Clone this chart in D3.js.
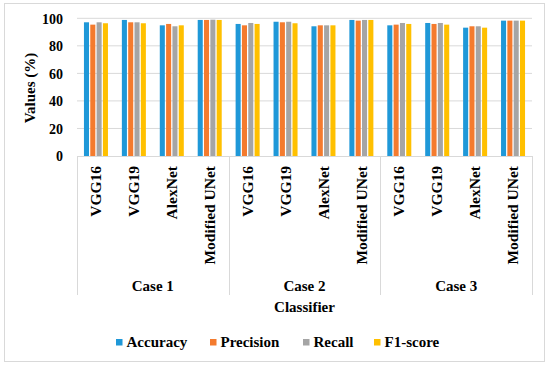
<!DOCTYPE html>
<html>
<head>
<meta charset="utf-8">
<script src="https://cdn.jsdelivr.net/npm/d3@7"></script>
<style>
  body { margin: 0; background: #fff; }
  text { font-family: "Liberation Serif", "Times New Roman", serif; font-weight: bold; fill: #000; }
</style>
</head>
<body>
<svg id="chart" width="550" height="366"></svg>
<script>
// values
var cases = ["Case 1", "Case 2", "Case 3"];
var classifiers = ["VGG16", "VGG19", "AlexNet", "Modified UNet"];
var metrics = ["Accuracy", "Precision", "Recall", "F1-score"];
var colors = ["#1f98d8", "#f47b2e", "#a5a5a5", "#ffc000"];
var yTicks = [0, 20, 40, 60, 80, 100];

// one row per case, classifier order, metric order inside
var accuracy  = [[97.1, 98.8, 94.9, 98.8], [95.9, 97.5, 94.2, 98.8], [94.9, 96.6, 93.2, 98.3]];
var precision = [[95.4, 97.1, 95.9, 98.8], [94.9, 97.1, 94.9, 98.3], [95.4, 95.9, 94.2, 98.3]];
var recall    = [[97.1, 97.1, 94.2, 99.0], [96.6, 97.5, 94.9, 98.8], [96.6, 96.6, 94.2, 98.3]];
var f1score   = [[96.4, 96.4, 94.9, 98.8], [95.9, 96.4, 94.9, 98.8], [95.9, 95.4, 93.2, 98.3]];
var series = [accuracy, precision, recall, f1score];

var svg = d3.select("#chart");

var plotLeft = 77, plotRight = 532, plotTop = 18.3, plotBottom = 156;
var catBottom = 295;

// outer chart border
svg.append("rect")
    .attr("x", 4.5).attr("y", 3.5)
    .attr("width", 540).attr("height", 358)
    .attr("fill", "#fff")
    .attr("stroke", "#d9d9d9");

var slots = [];
cases.forEach(function (c, ci) {
    classifiers.forEach(function (k, ki) {
        slots.push({ key: ci + "-" + ki, ci: ci, ki: ki, name: k });
    });
});

var x0 = d3.scaleBand()
    .domain(slots.map(d => d.key))
    .range([plotLeft, plotRight]);

var x1 = d3.scaleBand()
    .domain(metrics)
    .range([0, x0.bandwidth()])
    .paddingInner(0.2)
    .paddingOuter(1.1);

var xCase = d3.scaleBand()
    .domain(cases)
    .range([plotLeft, plotRight]);

var y = d3.scaleLinear()
    .domain([0, 100])
    .range([plotBottom, plotTop]);

// gridlines
svg.append("g")
    .selectAll("line")
    .data(yTicks.filter(t => t > 0))
    .join("line")
    .attr("x1", plotLeft).attr("x2", plotRight)
    .attr("y1", d => y(d)).attr("y2", d => y(d))
    .attr("stroke", "#d9d9d9")
    .attr("stroke-width", 1);

// y axis labels
var yAxis = d3.axisLeft(y).tickValues(yTicks).tickSize(0).tickPadding(0);
var gy = svg.append("g")
    .attr("transform", "translate(63,0)")
    .call(yAxis);
gy.select(".domain").remove();
gy.selectAll("text")
    .attr("font-size", "14px")
    .attr("font-family", "Liberation Serif, serif")
    .attr("font-weight", "bold")
    .attr("fill", "#000")
    .attr("dy", "0.34em");

// bars
var groups = svg.append("g")
    .selectAll("g")
    .data(slots)
    .join("g")
    .attr("transform", d => "translate(" + x0(d.key) + ",0)");

groups.selectAll("rect")
    .data(d => metrics.map((m, mi) => ({ metric: m, mi: mi, value: series[mi][d.ci][d.ki] })))
    .join("rect")
    .attr("x", d => x1(d.metric))
    .attr("width", x1.bandwidth())
    .attr("y", d => y(d.value))
    .attr("height", d => y(0) - y(d.value))
    .attr("fill", d => colors[d.mi]);

// baseline and category separators
svg.append("line")
    .attr("x1", plotLeft).attr("x2", plotRight)
    .attr("y1", plotBottom + 0.5).attr("y2", plotBottom + 0.5)
    .attr("stroke", "#d9d9d9");

var sepX = cases.map(c => xCase(c)).concat([plotRight]);
svg.append("g")
    .selectAll("line")
    .data(sepX)
    .join("line")
    .attr("x1", d => Math.round(d) + 0.5).attr("x2", d => Math.round(d) + 0.5)
    .attr("y1", plotBottom).attr("y2", catBottom)
    .attr("stroke", "#d9d9d9");

// classifier labels, rotated
svg.append("g")
    .selectAll("text")
    .data(slots)
    .join("text")
    .attr("transform", d => "translate(" + (x0(d.key) + x0.bandwidth() / 2) + ",166) rotate(-90)")
    .attr("text-anchor", "end")
    .attr("dy", "0.33em")
    .attr("font-size", "15.5px")
    .text(d => d.name);

// case labels
svg.append("g")
    .selectAll("text")
    .data(cases)
    .join("text")
    .attr("x", d => xCase(d) + xCase.bandwidth() / 2)
    .attr("y", 291)
    .attr("text-anchor", "middle")
    .attr("font-size", "15px")
    .text(d => d);

// axis titles
svg.append("text")
    .attr("x", (plotLeft + plotRight) / 2)
    .attr("y", 312)
    .attr("text-anchor", "middle")
    .attr("font-size", "15px")
    .text("Classifier");

svg.append("text")
    .attr("transform", "translate(35,88) rotate(-90)")
    .attr("text-anchor", "middle")
    .attr("font-size", "15px")
    .text("Values (%)");

// legend
var legendX = [116, 210, 303, 374];
var legend = svg.append("g")
    .selectAll("g")
    .data(metrics)
    .join("g")
    .attr("transform", (d, i) => "translate(" + legendX[i] + ",339)");

legend.append("rect")
    .attr("width", 6.5).attr("height", 6.5)
    .attr("fill", (d, i) => colors[i]);

legend.append("text")
    .attr("x", 10.5)
    .attr("y", 8)
    .attr("font-size", "15px")
    .text(d => d);
</script>
</body>
</html>
